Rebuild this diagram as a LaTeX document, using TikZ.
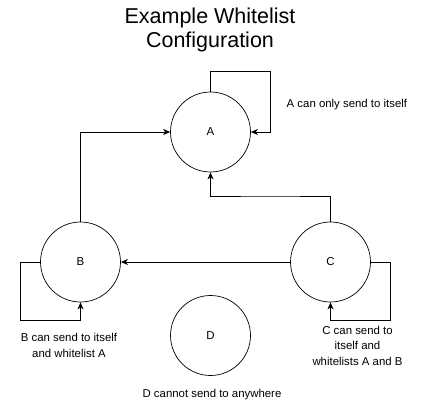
\documentclass[tikz,border=0pt]{standalone}
\usepackage{fontspec}
\setmainfont{Liberation Sans}
\usetikzlibrary{arrows.meta}
\begin{document}
\begin{tikzpicture}[x=1pt,y=-1pt,
  st/.style={circle,draw,line width=0.7pt,minimum size=80pt,inner sep=0pt,font=\fontsize{11.5}{13}\selectfont},
  conn/.style={line width=0.9pt,-{Stealth[length=7pt,width=6pt,inset=2pt]},rounded corners=0pt},
  lbl/.style={font=\fontsize{11.4}{15.5}\selectfont,align=center,inner sep=0pt},
  ttl/.style={font=\fontsize{21.5}{24}\selectfont,align=center,inner sep=0pt}]
\useasboundingbox (0,0) rectangle (425,406);
\node[ttl] (title) at (210,29.5) {Example Whitelist\\Configuration};
\node[st] (A) at (210.5,132) {A};
\node[st] (B) at (80.5,262) {B};
\node[st] (C) at (330.5,262) {C};
\node[st] (D) at (210.5,335.5) {D};
\coordinate (a1) at (210.5,71.5);
\coordinate (a2) at (270,71.5);
\coordinate (b1) at (20.5,262);
\coordinate (b2) at (20.5,320);
\coordinate (c1) at (390,262);
\coordinate (c2) at (390,320);
\draw[conn] (A.north) -- (a1) -- (a2) |- (A.east);
\draw[conn] (B.north) |- (A.west);
\draw[conn] (C.west) -- (B.east);
\draw[conn] (C.north) |- (270,196) -| (A.south);
\draw[conn] (B.west) -- (b1) -- (b2) -| (B.south);
\draw[conn] (C.east) -- (c1) -- (c2) -| (C.south);
\node[lbl,anchor=west] (la) at (286.5,105) {A can only send to itself};
\node[lbl] (lb) at (69,345.5) {B can send to itself\\and whitelist A};
\node[lbl] (lc) at (357.5,345.5) {C can send to\\itself and\\whitelists A and B};
\node[lbl] (ld) at (212,395) {D cannot send to anywhere};
\end{tikzpicture}
\end{document}
